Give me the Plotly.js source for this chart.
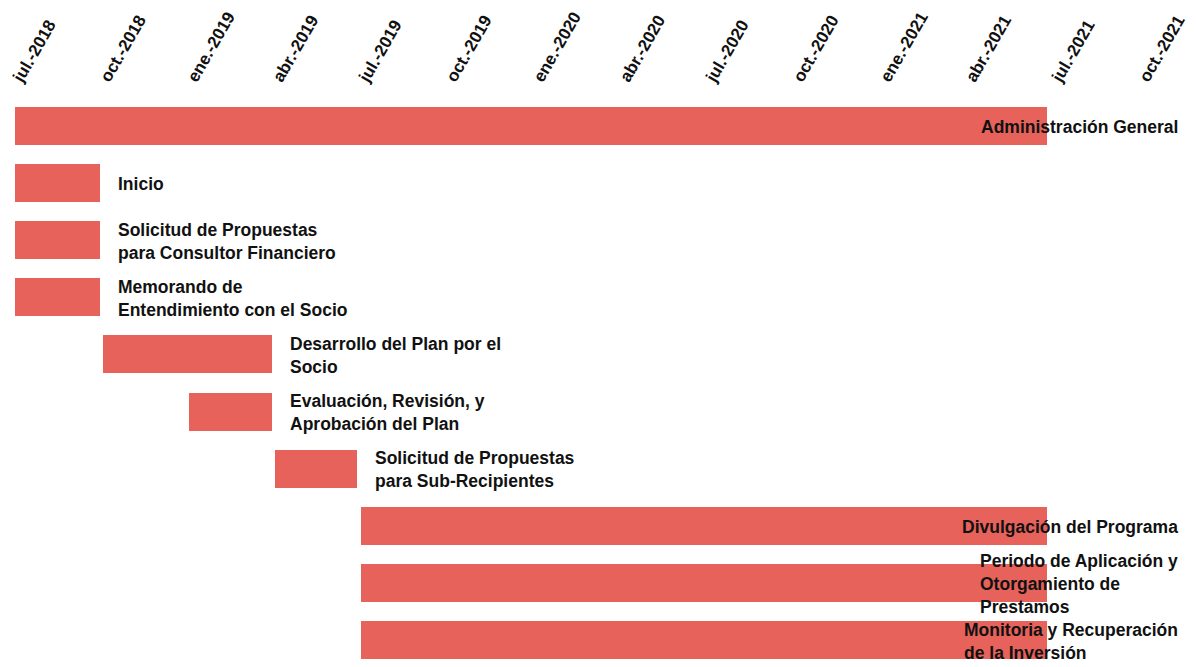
<!DOCTYPE html>
<html>
<head>
<meta charset="utf-8">
<script src="https://cdn.plot.ly/plotly-3.0.1.min.js"></script>
<style>
  body { margin: 0; background: #fff; }
  #chart { width: 1196px; height: 667px; }
</style>
</head>
<body>
<div id="chart"></div>
<script>
// tasks, top to bottom
var tasks = [
  "Administración General",
  "Inicio",
  "Solicitud de Propuestas<br>para Consultor Financiero",
  "Memorando de<br>Entendimiento con el Socio",
  "Desarrollo del Plan por el<br>Socio",
  "Evaluación, Revisión, y<br>Aprobación del Plan",
  "Solicitud de Propuestas<br>para Sub-Recipientes",
  "Divulgación del Programa",
  "Periodo de Aplicación y<br>Otorgamiento de<br>Prestamos",
  "Monitoria y Recuperación<br>de la Inversión"
];
var starts = [
  "2018-07-01", "2018-07-01", "2018-07-01", "2018-07-01", "2018-10-02",
  "2019-01-01", "2019-04-01", "2019-07-01", "2019-07-01", "2019-07-01"
];
var ends = [
  "2021-06-24", "2018-09-29", "2018-09-29", "2018-09-29", "2019-03-29",
  "2019-03-29", "2019-06-27", "2021-06-24", "2021-06-24", "2021-06-24"
];

var tickVals = [
  "2018-07-01", "2018-10-01", "2019-01-01", "2019-04-01", "2019-07-01",
  "2019-10-01", "2020-01-01", "2020-04-01", "2020-07-01", "2020-10-01",
  "2021-01-01", "2021-04-01", "2021-07-01", "2021-10-01"
];
var tickText = [
  "jul.-2018", "oct.-2018", "ene.-2019", "abr.-2019", "jul.-2019",
  "oct.-2019", "ene.-2020", "abr.-2020", "jul.-2020", "oct.-2020",
  "ene.-2021", "abr.-2021", "jul.-2021", "oct.-2021"
];

var ids = tasks.map((t, i) => "t" + i);
var durations = starts.map((s, i) => new Date(ends[i]) - new Date(s));

var trace = {
  type: "bar",
  orientation: "h",
  y: ids,
  base: starts,
  x: durations,
  width: 0.664,
  marker: { color: "#E7625A" },
  hoverinfo: "skip"
};

// long bars get their label pinned to the right edge, short ones sit after the bar
var labelFont = { family: "Liberation Sans, Arial, sans-serif", size: 17.5, color: "#111111" };
var annotations = tasks.map(function (t, i) {
  var longBar = new Date(ends[i]) > new Date("2021-01-01");
  if (longBar) {
    return {
      xref: "paper", x: 1180 / 1196, xanchor: "right",
      yref: "y", y: ids[i], yanchor: "middle", yshift: -1,
      text: "<b>" + t + "</b>", align: "left",
      showarrow: false, font: labelFont
    };
  }
  return {
    xref: "x", x: ends[i], xanchor: "left", xshift: 16,
    yref: "y", y: ids[i], yanchor: "middle", yshift: -1,
    text: "<b>" + t + "</b>", align: "left",
    showarrow: false, font: labelFont
  };
});

var layout = {
  width: 1196,
  height: 667,
  margin: { l: 0, r: 0, t: 97, b: 0 },
  paper_bgcolor: "#ffffff",
  plot_bgcolor: "#ffffff",
  showlegend: false,
  bargap: 0,
  xaxis: {
    type: "date",
    side: "top",
    range: ["2018-06-15 05:00", "2021-11-28"],
    tickvals: tickVals,
    ticktext: tickText,
    tickangle: -60,
    ticklabelstandoff: 5,
    tickfont: { family: "Liberation Sans, Arial, sans-serif", size: 17, weight: "bold", color: "#111111" },
    showgrid: false,
    zeroline: false,
    showline: false,
    ticks: ""
  },
  yaxis: {
    type: "category",
    categoryorder: "array",
    categoryarray: ids,
    range: [9.465, -0.5],
    showticklabels: false,
    showgrid: false,
    zeroline: false,
    showline: false,
    ticks: ""
  },
  annotations: annotations
};

Plotly.newPlot("chart", [trace], layout, { staticPlot: true });
</script>
</body>
</html>
